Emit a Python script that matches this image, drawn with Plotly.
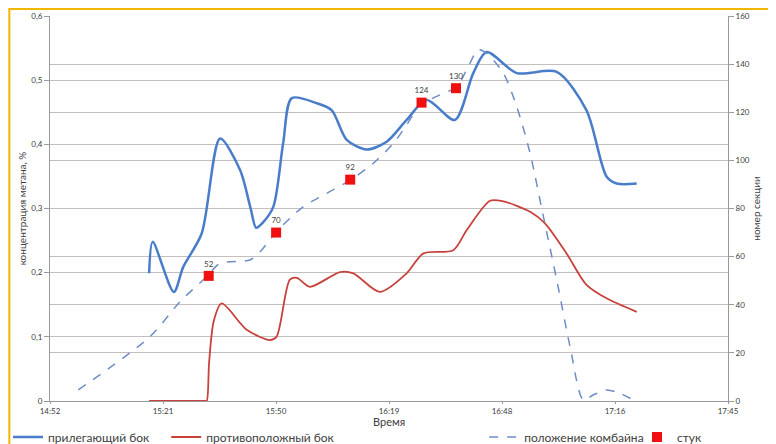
import plotly.graph_objects as go

# time axis: minutes after 14:52 (axis runs 14:52 .. 17:45)
TICK_LABELS = ["14:52", "15:21", "15:50", "16:19", "16:48", "17:16", "17:45"]
SPAN = 173

# прилегающий бок (left axis, %)
adj_t = [25.3, 26.2, 31.6, 34.0, 38.7, 43.4, 48.5, 51.2, 52.6, 54.3, 57.0, 59.5,
         61.7, 68.1, 71.9, 75.7, 80.8, 85.9, 91.0, 96.1, 103.3, 108.0, 111.4,
         119.1, 129.3, 136.9, 142.0, 144.6, 149.7]
adj_v = [0.199, 0.248, 0.170, 0.209, 0.261, 0.409, 0.360, 0.300, 0.270, 0.278,
         0.303, 0.402, 0.472, 0.464, 0.453, 0.407, 0.392, 0.404, 0.438, 0.469,
         0.438, 0.511, 0.544, 0.511, 0.513, 0.453, 0.350, 0.339, 0.339]

# противоположный бок (left axis, %)
opp_t = [25.3, 33.0, 39.6, 40.0, 40.6, 41.8, 43.8, 50.2, 56.1, 57.8, 61.2, 63.0,
         66.3, 74.0, 77.4, 84.2, 91.0, 95.3, 102.9, 106.3, 112.3, 115.7, 122.5,
         126.3, 131.8, 136.9, 142.0, 149.7]
opp_v = [0.0, 0.0, 0.0, 0.0, 0.060, 0.125, 0.152, 0.111, 0.095, 0.100, 0.189,
         0.192, 0.178, 0.201, 0.199, 0.170, 0.199, 0.230, 0.235, 0.266, 0.312,
         0.311, 0.295, 0.277, 0.230, 0.181, 0.160, 0.139]

# положение комбайна (right axis, section number)
pos_t = [7.2, 25.5, 33.2, 40.0, 43.4, 51.0, 53.6, 57.8, 64.6, 70.6, 76.6, 82.5,
         87.6, 91.0, 94.4, 99.5, 103.8, 106.3, 109.3, 111.4, 115.7, 119.1, 122.5,
         125.9, 129.3, 132.7, 136.1, 138.6, 142.0, 145.4, 149.3]
pos_v = [4.6, 26.7, 41.3, 51.7, 57.2, 58.6, 62.0, 70.4, 80.7, 86.3, 91.8, 98.8,
         107.1, 114.7, 123.0, 127.2, 130.6, 137.6, 145.9, 144.5, 136.2, 122.3,
         102.9, 76.6, 50.3, 22.6, 0.4, 2.5, 4.6, 3.2, 0.0]

# стук (right axis)
knock_t = [40.5, 57.7, 76.6, 94.8, 103.6]
knock_v = [52, 70, 92, 124, 130]

FONT = "Lato, 'Open Sans', sans-serif"
GRID = "#C4BEBE"
AXIS = "#9A9A9A"

fig = go.Figure()
fig.add_trace(go.Scatter(x=adj_t, y=adj_v, mode="lines", name="прилегающий бок",
                         line=dict(color="#4A7DC9", width=2.5, shape="spline", smoothing=0.8),
                         legend="legend", showlegend=True))
fig.add_trace(go.Scatter(x=opp_t, y=opp_v, mode="lines", name="противоположный бок",
                         line=dict(color="#C8413C", width=1.8, shape="spline", smoothing=0.8),
                         legend="legend2"))
fig.add_trace(go.Scatter(x=pos_t, y=pos_v, mode="lines", name="положение комбайна",
                         line=dict(color="#6F8CC8", width=1.5, dash="dash",
                                   shape="spline", smoothing=0.8),
                         yaxis="y2", legend="legend3"))
fig.add_trace(go.Scatter(x=knock_t, y=knock_v, mode="markers+text", name="стук",
                         marker=dict(symbol="square", size=10, color="#F01010"),
                         text=[str(v) for v in knock_v], textposition="top center",
                         textfont=dict(size=8, color="#404040"),
                         yaxis="y2", legend="legend4"))


def legend_at(x):
    return dict(orientation="h", xref="container", yref="container",
                x=x, xanchor="left", y=0.016, yanchor="middle",
                font=dict(size=12, color="#404040"), itemwidth=30,
                bgcolor="rgba(0,0,0,0)")


# the page body adds an 8px offset, so the figure is a bit smaller than the window
fig.update_layout(
    width=768, height=436, showlegend=True,
    margin=dict(l=42, r=48, t=8, b=43),
    paper_bgcolor="white", plot_bgcolor="white",
    font=dict(family=FONT, color="#404040"),
    xaxis=dict(range=[0, SPAN], tickvals=[i * SPAN / 6 for i in range(7)],
               ticktext=TICK_LABELS, showgrid=False, zeroline=False,
               showline=True, linecolor=AXIS, ticks="outside", ticklen=2,
               tickcolor=AXIS, tickfont=dict(size=8), automargin=False),
    yaxis=dict(range=[0, 0.6], tickvals=[0, 0.1, 0.2, 0.3, 0.4, 0.5, 0.6],
               ticktext=["0", "0,1", "0,2", "0,3", "0,4", "0,5", "0,6"],
               showgrid=True, gridcolor=GRID, zeroline=False, showline=True,
               linecolor=AXIS, ticks="outside", ticklen=5, tickcolor=AXIS,
               tickfont=dict(size=8), automargin=False,
               title=dict(text="концентрация метана, %", font=dict(size=10), standoff=2)),
    yaxis2=dict(range=[0, 160], tickvals=list(range(0, 161, 20)), overlaying="y",
                side="right", showgrid=True, gridcolor=GRID, zeroline=False,
                showline=True, linecolor=AXIS, ticks="outside", ticklen=5,
                tickcolor=AXIS, tickfont=dict(size=8), automargin=False,
                title=dict(text="номер секции", font=dict(size=10), standoff=4)),
    annotations=[dict(text="Время", xref="paper", yref="paper", x=0.5, y=-0.052,
                      xanchor="center", yanchor="middle", showarrow=False,
                      font=dict(size=11, color="#404040"))],
    legend=legend_at(0.0),
    legend2=legend_at(0.206),
    legend3=legend_at(0.62),
    legend4=legend_at(0.819),
    shapes=[dict(type="rect", xref="paper", yref="paper", x0=-0.06, x1=1.1,
                 y0=-0.3, y1=1.018, line=dict(color="#F2B705", width=2),
                 layer="above")],
)

fig.write_html("out.html")
